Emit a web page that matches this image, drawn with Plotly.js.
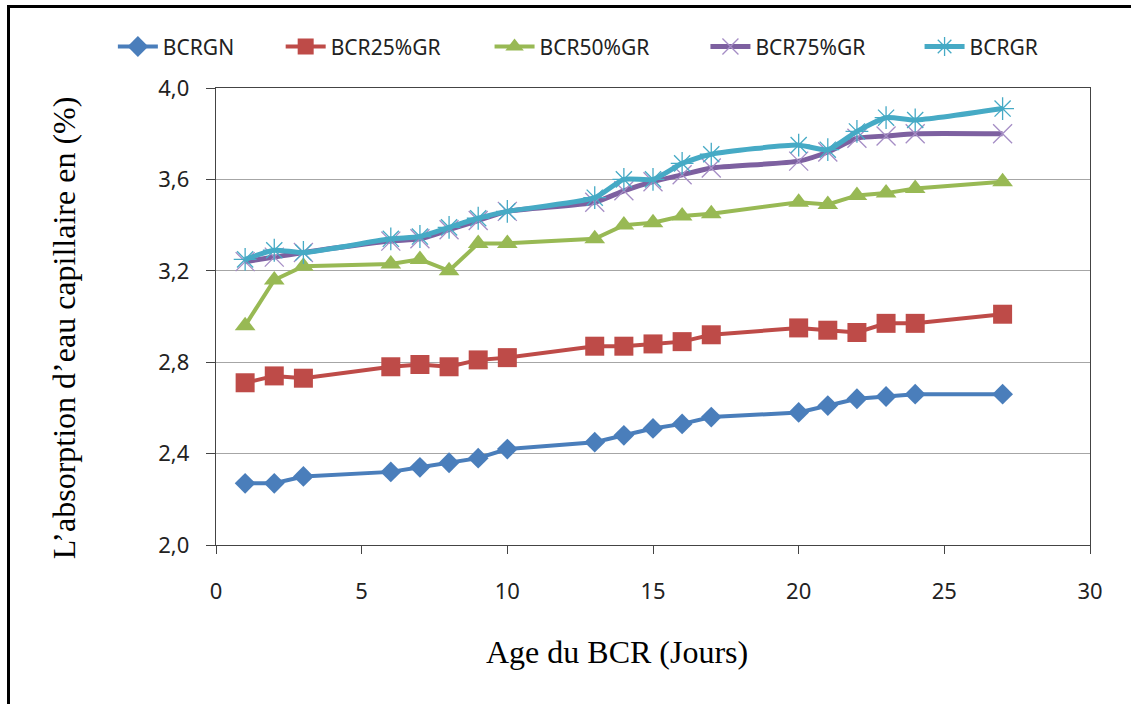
<!DOCTYPE html>
<html>
<head>
<meta charset="utf-8">
<script src="https://cdn.plot.ly/plotly-3.0.1.min.js"></script>
<style>
  html, body { margin: 0; padding: 0; background: #fff; }
  #wrap { position: relative; width: 1131px; height: 704px; overflow: hidden; }
  #frame {
    position: absolute; left: 7px; top: 5px; width: 1140px; height: 720px;
    border-left: 3px solid #000; border-top: 3px solid #000;
    pointer-events: none; z-index: 5;
  }
  #chart { width: 1131px; height: 704px; }
</style>
</head>
<body>
<div id="wrap">
  <div id="frame"></div>
  <div id="chart"></div>
</div>
<script>
// Age du BCR (jours)
const days = [1, 2, 3, 6, 7, 8, 9, 10, 13, 14, 15, 16, 17, 20, 21, 22, 23, 24, 27];

// absorption capillaire (%)
const bcrgn   = [2.27, 2.27, 2.30, 2.32, 2.34, 2.36, 2.38, 2.42, 2.45, 2.48, 2.51, 2.53, 2.56, 2.58, 2.61, 2.64, 2.65, 2.66, 2.66];
const bcr25gr = [2.71, 2.74, 2.73, 2.78, 2.79, 2.78, 2.81, 2.82, 2.87, 2.87, 2.88, 2.89, 2.92, 2.95, 2.94, 2.93, 2.97, 2.97, 3.01];
const bcr50gr = [2.96, 3.16, 3.22, 3.23, 3.25, 3.20, 3.32, 3.32, 3.34, 3.40, 3.41, 3.44, 3.45, 3.50, 3.49, 3.53, 3.54, 3.56, 3.59];
const bcr75gr = [3.24, 3.26, 3.28, 3.33, 3.34, 3.38, 3.42, 3.46, 3.50, 3.55, 3.59, 3.62, 3.65, 3.68, 3.72, 3.78, 3.79, 3.80, 3.80];
const bcrgr   = [3.25, 3.29, 3.28, 3.34, 3.35, 3.39, 3.43, 3.46, 3.52, 3.60, 3.60, 3.67, 3.71, 3.75, 3.73, 3.81, 3.87, 3.86, 3.91];

const yTicks = [2.0, 2.4, 2.8, 3.2, 3.6, 4.0];
const xTicks = [0, 5, 10, 15, 20, 25, 30];

const seriesNames = ['BCRGN', 'BCR25%GR', 'BCR50%GR', 'BCR75%GR', 'BCRGR'];
// une légende par série, placée comme dans Excel
const legendX = [-0.118, 0.074, 0.313, 0.56, 0.805];

const tickFont = { size: 22, family: 'Noto Sans, sans-serif', color: '#222' };
const titleFont = { size: 32, family: 'Liberation Serif, serif', color: '#000' };

const traces = [
    {
        x: days, y: bcrgn, name: seriesNames[0], legend: 'legend', mode: 'lines+markers',
        line: { color: '#4A7EBB', width: 4 },
        marker: { symbol: 'diamond', size: 16, color: '#4A7EBB' }
    },
    {
        x: days, y: bcr25gr, name: seriesNames[1], legend: 'legend2', mode: 'lines+markers',
        line: { color: '#BE4B48', width: 4 },
        marker: { symbol: 'square', size: 19, color: '#BE4B48' }
    },
    {
        x: days, y: bcr50gr, name: seriesNames[2], legend: 'legend3', mode: 'lines+markers',
        line: { color: '#98B954', width: 4 },
        marker: { symbol: 'triangle-up', size: 18, color: '#98B954' }
    },
    {
        x: days, y: bcr75gr, name: seriesNames[3], legend: 'legend4', mode: 'lines+markers',
        line: { color: '#7D60A0', width: 5, shape: 'spline', smoothing: 0.6 },
        marker: { symbol: 'x-thin-open', size: 19, color: '#A58DC5', line: { width: 1.3, color: '#A58DC5' } }
    },
    {
        x: days, y: bcrgr, name: seriesNames[4], legend: 'legend5', mode: 'lines+markers',
        line: { color: '#46AAC5', width: 5, shape: 'spline', smoothing: 0.6 },
        marker: { symbol: 'asterisk-open', size: 19, color: '#46AAC5', line: { width: 1.3, color: '#46AAC5' } }
    }
];

const layout = {
    width: 1131,
    height: 704,
    margin: { l: 216, r: 41, t: 88, b: 159 },
    paper_bgcolor: '#fff',
    plot_bgcolor: '#fff',
    separators: ', ',
    font: { family: 'Noto Sans, sans-serif', color: '#222' },
    showlegend: true,
    xaxis: {
        range: [0, 30],
        tickvals: xTicks,
        ticks: 'outside', ticklen: 8, tickcolor: '#444',
        ticklabelstandoff: 18,
        showline: true, linecolor: '#444', linewidth: 1.3, mirror: true,
        showgrid: false, zeroline: false,
        tickfont: tickFont
    },
    yaxis: {
        range: [2.0, 4.0],
        tickvals: yTicks,
        tickformat: '.1f',
        ticks: 'outside', ticklen: 9, tickcolor: '#444',
        ticklabelstandoff: 12,
        showline: true, linecolor: '#444', linewidth: 1.3, mirror: true,
        showgrid: true, gridcolor: '#a6a6a6', gridwidth: 1.3,
        zeroline: false,
        tickfont: tickFont
    },
    // titres des axes, placés comme dans l'original
    annotations: [
        {
            text: 'Age du BCR (Jours)', xref: 'paper', yref: 'paper',
            x: 0.459, y: -0.235, xanchor: 'center', yanchor: 'middle',
            showarrow: false, font: titleFont
        },
        {
            text: 'L’absorption d’eau capillaire en (%)', xref: 'paper', yref: 'paper',
            x: -0.173, y: 0.476, xanchor: 'center', yanchor: 'middle',
            textangle: -90, showarrow: false, font: titleFont
        }
    ]
};

['legend', 'legend2', 'legend3', 'legend4', 'legend5'].forEach((key, i) => {
    layout[key] = {
        orientation: 'h',
        x: legendX[i], xanchor: 'left',
        y: 1.09, yanchor: 'middle',
        font: { size: 21, family: 'Noto Sans, sans-serif', color: '#222' },
        itemwidth: 40,
        bgcolor: 'rgba(0,0,0,0)'
    };
});

Plotly.newPlot('chart', traces, layout, { displayModeBar: false, staticPlot: true });
</script>
</body>
</html>
